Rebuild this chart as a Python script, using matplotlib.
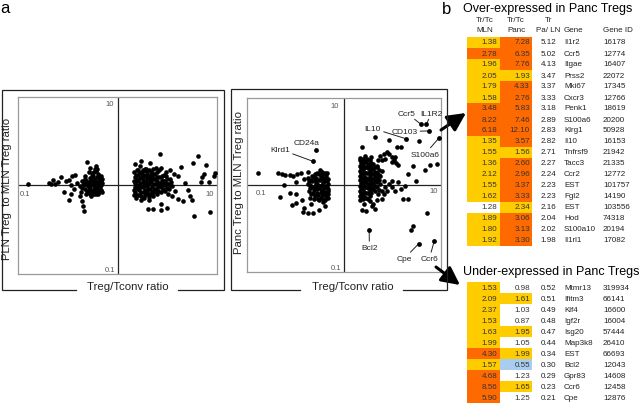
import numpy as np
import matplotlib.pyplot as plt
from matplotlib.patches import Rectangle, FancyArrowPatch

plt.rcParams['font.family'] = ['Liberation Sans', 'DejaVu Sans']

# ---- panel a: log10(Treg/Tconv), log10(PLN Treg / MLN Treg) ----
a_low = [(-0.90, 0.02), (-0.69, 0.03), (-0.67, 0.01), (-0.65, 0.06), (-0.63, 0.02), (-0.60, 0.04),
         (-0.57, 0.09), (-0.54, -0.07), (-0.52, 0.05), (-0.49, 0.06), (-0.49, -0.17), (-0.47, 0.00),
         (-0.46, 0.10), (-0.47, -0.10), (-0.44, -0.04), (-0.43, 0.12), (-0.41, 0.03), (-0.38, -0.01),
         (-0.37, -0.08), (-0.36, -0.03), (-0.36, -0.18), (-0.35, -0.23), (-0.34, -0.29), (-0.33, 0.10),
         (-0.31, 0.26), (-0.29, 0.15), (-0.28, 0.20), (-0.26, 0.11), (-0.24, 0.15), (-0.22, 0.16),
         (-0.36, 0.05), (-0.34, 0.02), (-0.33, -0.04), (-0.32, 0.05), (-0.31, 0.00), (-0.30, -0.08),
         (-0.29, 0.03), (-0.29, -0.02), (-0.28, -0.10), (-0.27, 0.05), (-0.26, 0.00), (-0.25, -0.06),
         (-0.24, 0.07), (-0.24, 0.02), (-0.23, -0.03), (-0.22, -0.10), (-0.21, 0.09), (-0.21, 0.03),
         (-0.21, -0.02), (-0.20, 0.13), (-0.19, 0.07), (-0.19, -0.07), (-0.19, 0.02), (-0.18, -0.04),
         (-0.17, 0.10), (-0.17, 0.05), (-0.17, 0.00), (-0.16, -0.08), (-0.21, 0.18), (-0.22, 0.22),
         (-0.27, -0.12), (-0.32, -0.10), (-0.38, -0.12),
         (-0.35, 0.00), (-0.33, 0.07), (-0.31, -0.06), (-0.30, 0.04), (-0.28, -0.04), (-0.28, 0.08),
         (-0.27, -0.08), (-0.25, 0.03), (-0.25, 0.10), (-0.24, -0.04), (-0.23, 0.05), (-0.22, -0.07),
         (-0.22, 0.00), (-0.20, 0.04), (-0.20, -0.05), (-0.19, 0.11), (-0.18, -0.01), (-0.18, 0.08),
         (-0.17, -0.05), (-0.16, 0.03), (-0.16, 0.07), (-0.20, -0.10), (-0.24, -0.10), (-0.26, 0.14),
         (-0.23, 0.19)]
a_high = [(0.43, 0.35), (0.24, 0.28), (0.33, 0.25), (0.18, 0.24), (0.29, 0.19), (0.64, 0.21),
          (0.81, 0.33), (0.76, 0.25), (0.89, 0.23), (0.87, 0.13), (0.98, 0.14), (0.97, 0.10),
          (0.84, 0.04), (0.92, 0.04), (0.68, 0.03), (0.57, 0.13), (0.61, 0.11), (0.53, 0.17),
          (0.71, -0.05), (0.61, -0.15), (0.66, -0.18), (0.75, -0.17), (0.93, -0.30), (0.77, -0.35),
          (0.31, -0.27), (0.36, -0.27), (0.44, -0.28), (0.44, -0.21), (0.50, -0.25), (0.55, -0.12),
          (0.58, -0.06), (0.51, -0.10), (0.85, 0.09), (0.73, -0.12),
          (0.17, 0.15), (0.18, 0.09), (0.18, 0.03), (0.18, -0.02), (0.18, -0.08), (0.19, -0.14),
          (0.20, 0.17), (0.21, 0.12), (0.21, 0.06), (0.22, 0.00), (0.22, -0.05), (0.22, -0.11),
          (0.24, -0.16), (0.25, 0.15), (0.25, 0.09), (0.26, 0.04), (0.26, -0.02), (0.27, -0.08),
          (0.27, -0.14), (0.30, 0.13), (0.30, 0.07), (0.31, 0.02), (0.31, -0.04), (0.31, -0.10),
          (0.32, -0.17), (0.34, 0.15), (0.34, 0.10), (0.34, 0.04), (0.35, -0.01), (0.35, -0.07),
          (0.36, -0.12), (0.38, 0.13), (0.38, 0.07), (0.39, 0.02), (0.39, -0.04), (0.40, -0.10),
          (0.42, 0.17), (0.42, 0.09), (0.43, 0.03), (0.44, -0.02), (0.44, -0.08), (0.47, 0.12),
          (0.47, 0.05), (0.48, 0.00), (0.48, -0.06), (0.50, 0.07), (0.51, 0.02), (0.52, -0.04),
          (0.54, 0.04), (0.55, -0.01), (0.23, 0.22), (0.28, 0.19), (0.36, 0.18), (0.39, 0.20),
          (0.44, 0.20), (0.49, 0.15), (0.19, 0.05), (0.23, 0.08), (0.28, -0.05), (0.33, 0.07),
          (0.37, -0.04), (0.41, 0.01), (0.45, 0.06), (0.29, 0.10), (0.24, -0.08), (0.20, -0.03),
          (0.32, -0.13), (0.40, 0.09),
          (0.19, 0.12), (0.19, 0.00), (0.20, -0.11), (0.20, 0.06), (0.23, 0.14), (0.23, 0.03),
          (0.23, -0.02), (0.24, -0.12), (0.26, 0.12), (0.26, 0.07), (0.27, 0.00), (0.28, -0.11),
          (0.29, 0.16), (0.29, 0.04), (0.30, -0.01), (0.30, -0.07), (0.32, 0.11), (0.33, 0.04),
          (0.33, -0.04), (0.34, -0.10), (0.36, 0.13), (0.36, 0.07), (0.37, 0.01), (0.37, -0.08),
          (0.40, 0.15), (0.40, 0.05), (0.41, -0.02), (0.41, -0.06), (0.45, 0.10), (0.45, 0.01),
          (0.46, -0.04), (0.49, 0.10), (0.49, 0.03), (0.50, -0.03), (0.53, 0.07), (0.53, 0.00),
          (0.21, 0.17), (0.26, 0.17), (0.32, 0.17), (0.35, 0.11), (0.17, 0.05), (0.17, -0.05),
          (0.17, -0.11)]

# ---- panel b: log10(Treg/Tconv), log10(Panc Treg / MLN Treg) ----
b_low = [(-0.89, 0.13), (-0.68, 0.14), (-0.64, 0.12), (-0.61, 0.11), (-0.56, 0.11), (-0.53, 0.10),
         (-0.48, 0.12), (-0.49, 0.03), (-0.62, 0.00), (-0.56, -0.10), (-0.66, -0.14), (-0.49, -0.11),
         (-0.54, -0.23), (-0.49, -0.21), (-0.43, -0.18), (-0.41, -0.27), (-0.42, -0.31), (-0.37, -0.33),
         (-0.32, -0.33), (-0.44, 0.14), (-0.41, 0.07), (-0.37, 0.15), (-0.23, 0.15), (-0.18, 0.14),
         (-0.20, -0.24), (-0.22, -0.20), (-0.26, -0.29),
         (-0.37, 0.08), (-0.37, 0.01), (-0.36, -0.07), (-0.35, -0.15), (-0.33, 0.10), (-0.33, 0.04),
         (-0.32, -0.03), (-0.32, -0.10), (-0.31, -0.17), (-0.29, 0.08), (-0.29, 0.02), (-0.28, -0.05),
         (-0.27, -0.12), (-0.26, 0.12), (-0.25, 0.05), (-0.25, -0.01), (-0.24, -0.08), (-0.24, -0.15),
         (-0.22, 0.08), (-0.22, 0.02), (-0.21, -0.04), (-0.21, -0.11), (-0.20, -0.18), (-0.19, 0.10),
         (-0.18, 0.04), (-0.18, -0.03), (-0.18, -0.09), (-0.17, -0.15), (-0.28, 0.14), (-0.16, 0.01),
         (-0.16, -0.07), (-0.34, -0.22), (-0.35, 0.00), (-0.34, 0.06), (-0.30, 0.12), (-0.27, 0.00),
         (-0.23, -0.06), (-0.20, 0.06), (-0.26, -0.18), (-0.30, -0.01), (-0.23, 0.11),
         (-0.36, 0.04), (-0.35, -0.04), (-0.34, -0.11), (-0.31, 0.09), (-0.31, -0.06), (-0.30, 0.05),
         (-0.30, -0.13), (-0.28, -0.09), (-0.27, 0.06), (-0.27, -0.16), (-0.26, -0.04), (-0.24, 0.09),
         (-0.23, 0.00), (-0.23, -0.12), (-0.22, -0.16), (-0.21, 0.04), (-0.20, -0.08), (-0.19, -0.01),
         (-0.19, -0.13), (-0.17, 0.07), (-0.17, -0.05), (-0.17, -0.11), (-0.25, 0.17), (-0.20, 0.13)]
b_high = [(0.19, 0.43), (0.32, 0.55), (0.46, 0.52), (0.55, 0.44), (0.59, 0.43), (0.77, 0.51),
          (0.71, 0.22), (0.84, 0.17), (0.89, 0.23), (0.96, 0.24), (0.66, 0.12), (0.74, 0.04),
          (0.66, -0.17), (0.61, -0.17), (0.69, -0.52), (0.71, -0.47), (0.86, -0.33),
          (0.37, 0.33), (0.41, 0.36), (0.44, 0.38), (0.46, 0.35), (0.49, 0.32), (0.52, 0.28),
          (0.54, 0.25), (0.56, 0.23), (0.42, 0.30), (0.39, 0.28), (0.49, 0.26), (0.35, 0.28),
          (0.34, 0.22), (0.53, 0.32), (0.22, 0.33), (0.39, 0.16), (0.37, 0.10),
          (0.56, 0.03), (0.59, -0.05), (0.63, -0.02), (0.53, -0.07), (0.49, -0.03), (0.46, 0.01),
          (0.42, -0.03), (0.39, -0.07), (0.35, -0.11), (0.34, -0.18), (0.29, -0.24), (0.23, -0.30),
          (0.19, -0.29), (0.30, -0.22), (0.39, -0.17), (0.32, -0.28), (0.27, -0.19), (0.41, -0.11),
          (0.44, -0.07), (0.37, 0.01), (0.41, 0.04), (0.49, 0.04),
          (0.165, 0.28), (0.165, 0.22), (0.165, 0.16), (0.165, 0.10), (0.165, 0.05), (0.165, -0.01),
          (0.165, -0.07), (0.165, -0.13), (0.20, 0.30), (0.20, 0.24), (0.20, 0.18), (0.20, 0.12),
          (0.20, 0.07), (0.20, 0.01), (0.20, -0.05), (0.20, -0.11), (0.20, -0.17), (0.23, 0.26),
          (0.23, 0.20), (0.23, 0.14), (0.23, 0.08), (0.23, 0.03), (0.23, -0.03), (0.23, -0.09),
          (0.23, -0.15), (0.27, 0.28), (0.27, 0.22), (0.27, 0.16), (0.27, 0.10), (0.27, 0.05),
          (0.27, -0.01), (0.27, -0.07), (0.27, -0.13), (0.30, 0.24), (0.30, 0.18), (0.30, 0.12),
          (0.30, 0.07), (0.30, 0.01), (0.30, -0.05), (0.34, 0.20), (0.34, 0.14), (0.34, 0.08),
          (0.34, 0.03), (0.34, -0.03), (0.18, 0.25), (0.18, 0.13), (0.18, 0.02), (0.18, -0.10),
          (0.25, 0.19), (0.25, 0.07), (0.25, -0.04), (0.25, -0.16), (0.32, 0.10), (0.32, -0.01),
          (0.21, -0.22), (0.17, -0.18), (0.28, 0.32),
          (0.18, 0.28), (0.18, 0.19), (0.18, 0.07), (0.18, -0.04), (0.18, -0.14), (0.21, 0.27),
          (0.21, 0.21), (0.21, 0.15), (0.21, 0.09), (0.21, 0.04), (0.21, -0.02), (0.21, -0.08),
          (0.21, -0.14), (0.25, 0.24), (0.25, 0.13), (0.25, 0.01), (0.25, -0.10), (0.28, 0.25),
          (0.28, 0.19), (0.28, 0.13), (0.28, 0.07), (0.28, 0.02), (0.28, -0.04), (0.28, -0.10),
          (0.32, 0.21), (0.32, 0.15), (0.32, 0.04), (0.32, -0.07), (0.36, 0.17), (0.36, 0.11),
          (0.36, 0.05), (0.36, -0.06), (0.17, 0.31), (0.24, 0.30)]

# labelled genes in panel b (log10 values)
lab_genes = ['Ccr5', 'IL1R2', 'CD103', 'IL10', 'S100a6', 'CD24a', 'Klrd1', 'Bcl2', 'Cpe', 'Ccr6']
lab_x = [0.79, 0.85, 0.88, 0.64, 0.98, -0.29, -0.32, 0.26, 0.77, 0.93]
lab_y = [0.70, 0.70, 0.62, 0.53, 0.54, 0.40, 0.27, -0.52, -0.68, -0.65]

# ---- tables ----
over_mln = [1.38, 2.78, 1.96, 2.05, 1.79, 1.58, 3.48, 8.22, 6.18, 1.35, 1.55, 1.36, 2.12, 1.55,
            1.62, 1.28, 1.89, 1.80, 1.92]
over_panc = [7.28, 6.35, 7.76, 1.93, 4.33, 2.76, 5.83, 7.46, 12.10, 3.57, 1.56, 2.60, 2.96, 3.37,
             3.33, 2.34, 3.06, 3.13, 3.30]
over_paln = [5.12, 5.02, 4.13, 3.47, 3.37, 3.33, 3.18, 2.89, 2.83, 2.82, 2.71, 2.27, 2.24, 2.23,
             2.23, 2.16, 2.04, 2.02, 1.98]
over_gene = ['Il1r2', 'Ccr5', 'Itgae', 'Prss2', 'Mki67', 'Cxcr3', 'Penk1', 'S100a6', 'Klrg1',
             'Il10', 'Tnfrsf9', 'Tacc3', 'Ccr2', 'EST', 'Fgl2', 'EST', 'Hod', 'S100a10', 'Il1rl1']
over_id = [16178, 12774, 16407, 22072, 17345, 12766, 18619, 20200, 50928, 16153, 21942, 21335,
           12772, 101757, 14190, 103556, 74318, 20194, 17082]

under_mln = [1.53, 2.09, 2.37, 1.53, 1.63, 1.99, 4.30, 1.57, 4.68, 8.56, 5.90]
under_panc = [0.98, 1.61, 1.03, 0.87, 1.95, 1.05, 1.99, 0.55, 1.23, 1.65, 1.25]
under_paln = [0.52, 0.51, 0.49, 0.48, 0.47, 0.44, 0.34, 0.30, 0.29, 0.23, 0.21]
under_gene = ['Mtmr13', 'Ifitm3', 'Klf4', 'Igf2r', 'Isg20', 'Map3k8', 'EST', 'Bcl2', 'Gpr83',
              'Ccr6', 'Cpe']
under_id = [319934, 66141, 16600, 16004, 57444, 26410, 66693, 12043, 14608, 12458, 12876]

W, H = 640, 406
fig = plt.figure(figsize=(6.4, 4.06), dpi=100)


def px_axes(x0, y0, x1, y1):
    return fig.add_axes([x0 / W, 1 - y1 / H, (x1 - x0) / W, (y1 - y0) / H])


def scatter_panel(ax, groups, offs):
    for pts in groups:
        lx, ly = zip(*pts)
        ax.scatter(10 ** np.array(lx), 10 ** np.array(ly), s=11, c='black', linewidths=0, zorder=3)
    ax.set_xscale('log')
    ax.set_yscale('log')
    ax.set_xlim(0.1, 10)
    ax.set_ylim(0.1, 10)
    ax.axhline(1, color='#222222', lw=0.9, zorder=2)
    ax.axvline(1, color='#222222', lw=0.9, zorder=2)
    ax.tick_params(which='both', length=0, labelbottom=False, labelleft=False)
    for s in ax.spines.values():
        s.set_color('#9a9a9a')
        s.set_linewidth(0.9)
    # scale numbers at the ends of the crosshair
    for xy, s, d in zip([(1, 10), (1, 0.1), (0.1, 1), (10, 1)], ['10', '0.1', '0.1', '10'], offs):
        ax.annotate(s, xy=xy, xytext=d, textcoords='offset pixels', ha='center', va='center',
                    fontsize=5.5, color='#555555', annotation_clip=False)


ax1 = px_axes(18, 97.7, 217, 275)
scatter_panel(ax1, [a_low, a_high], [(-8, -6.5), (-7.5, 5), (7, -8.6), (-7, -8.6)])

ax2 = px_axes(247, 99, 441, 272.5)
scatter_panel(ax2, [b_low, b_high], [(-9, -7.7), (-8.3, 4.2), (14.5, -8.2), (-7.7, -6)])
ax2.scatter(10 ** np.array(lab_x), 10 ** np.array(lab_y), s=12, c='black', linewidths=0, zorder=4)

# label placement (log10 coords); CD24a sits right above its point with no leader
label_at = {'Ccr5': (0.646, 0.827), 'IL1R2': (0.904, 0.827), 'CD103': (0.622, 0.615),
            'IL10': (0.296, 0.65), 'S100a6': (0.835, 0.354), 'CD24a': (-0.385, 0.49),
            'Klrd1': (-0.66, 0.41), 'Bcl2': (0.261, -0.723), 'Cpe': (0.622, -0.85),
            'Ccr6': (0.88, -0.85)}
for g, x, y in zip(lab_genes, lab_x, lab_y):
    tx, ty = label_at[g]
    arrow = None if g == 'CD24a' else dict(arrowstyle='-', lw=0.7, color='#222222', shrinkA=0, shrinkB=1)
    ax2.annotate(g, xy=(10 ** x, 10 ** y), xytext=(10 ** tx, 10 ** ty), ha='center', va='center',
                 fontsize=6, color='#222222', annotation_clip=False, arrowprops=arrow)

# overlay in pixel units for frames, tables and arrows
ov = fig.add_axes([0, 0, 1, 1], facecolor='none')
ov.set_xlim(0, W)
ov.set_ylim(H, 0)
ov.axis('off')


def frame(x0, y0, x1, y1, gap):
    ov.plot([gap[1], x1, x1, x0, x0, gap[0]], [y1, y1, y0, y0, y1, y1],
            color='#222222', lw=0.9, solid_joinstyle='miter')


frame(1.5, 90.5, 224, 290.5, (76, 178))
frame(230.5, 89.5, 446.5, 290.5, (300, 403))
ov.text(128, 287.5, 'Treg/Tconv ratio', ha='center', va='center', fontsize=8.2, color='#222222')
ov.text(353, 287.5, 'Treg/Tconv ratio', ha='center', va='center', fontsize=8.2, color='#222222')
ov.text(7.5, 189, 'PLN Treg  to MLN Treg ratio', rotation=90, ha='center', va='center',
        fontsize=8.2, color='#222222')
ov.text(239.5, 183, 'Panc Treg to MLN Treg ratio', rotation=90, ha='center', va='center',
        fontsize=8.2, color='#222222')

ov.text(4.7, 8.5, 'a', ha='center', va='center', fontsize=12)
ov.text(446.7, 9, 'b', ha='center', va='center', fontsize=12)

YELLOW, ORANGE, BLUE = '#ffcc00', '#ff6a00', '#a9cdf0'


def cell_color(v):
    if v >= 2.5:
        return ORANGE
    if v >= 1.3:
        return YELLOW
    if v < 0.6:
        return BLUE
    return 'white'


ROW = 11.0
FS = 5.8


def draw_table(top, mln, panc, paln, genes, ids):
    for i in range(len(mln)):
        y0 = top + i * ROW
        yc = y0 + ROW / 2
        for x0, v in ((467, mln[i]), (499.5, panc[i])):
            ov.add_patch(Rectangle((x0, y0), 32.5, ROW, facecolor=cell_color(v), edgecolor='none'))
            ov.text(x0 + 30.5, yc, f'{v:.2f}', ha='right', va='center', fontsize=FS, color='#333333')
        ov.text(556.5, yc, f'{paln[i]:.2f}', ha='right', va='center', fontsize=FS, color='#222222')
        ov.text(564, yc, genes[i], ha='left', va='center', fontsize=FS, color='#222222')
        ov.text(603, yc, str(ids[i]), ha='left', va='center', fontsize=FS, color='#222222')


ov.text(463.3, 9, 'Over-expressed in Panc Tregs', ha='left', va='center', fontsize=9)
for x, t1, t2 in ((484.5, 'Tr/Tc', 'MLN'), (516, 'Tr/Tc', 'Panc'), (548, 'Tr', 'Pa/ LN')):
    ov.text(x, 20.7, t1, ha='center', va='center', fontsize=FS, color='#222222')
    ov.text(x, 30.7, t2, ha='center', va='center', fontsize=FS, color='#222222')
ov.text(564, 30.7, 'Gene', ha='left', va='center', fontsize=FS, color='#222222')
ov.text(603, 30.7, 'Gene ID', ha='left', va='center', fontsize=FS, color='#222222')
draw_table(37.5, over_mln, over_panc, over_paln, over_gene, over_id)

ov.text(462.7, 272, 'Under-expressed in Panc Tregs', ha='left', va='center', fontsize=9)
draw_table(283, under_mln, under_panc, under_paln, under_gene, under_id)

for a, b in (((441, 131), (466, 114)), ((436, 268), (460, 286))):
    ov.add_patch(FancyArrowPatch(a, b, arrowstyle='-|>,head_length=1.0,head_width=0.5',
                                 mutation_scale=11, lw=2.2, color='black', shrinkA=0, shrinkB=0))

fig.savefig('out.png', dpi=100)
